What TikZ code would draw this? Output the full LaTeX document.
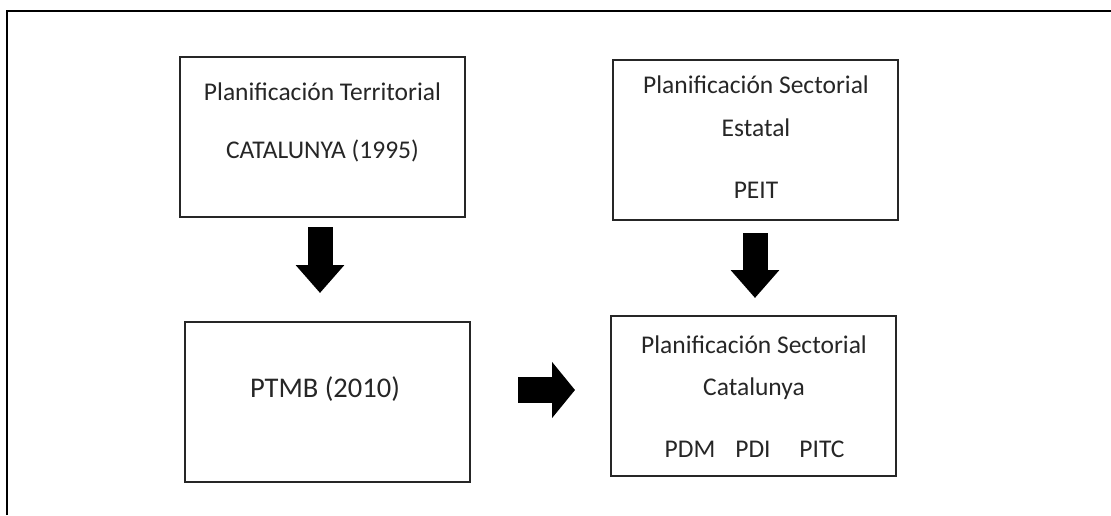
\documentclass[tikz,border=0pt]{standalone}
\usepackage{fontspec}
\setmainfont{Carlito}
\usetikzlibrary{arrows.meta}

\tikzset{
  caja/.style={draw=black!85, line width=1.8pt, minimum width=285pt, minimum height=160pt, inner sep=0pt},
  texto/.style={anchor=base, inner sep=0pt, text=black!85, font=\fontsize{25.5}{30}\selectfont},
  bloque/.style={line width=25pt, -{Triangle[length=28pt,width=47pt]}},
}

\begin{document}
\begin{tikzpicture}[x=1pt, y=-1pt]
    \useasboundingbox (0,0) rectangle (1111,515);
    % marco
    \draw[line width=2pt] (7,515) -- (7,11) -- (1111,11);

    % cajas
    \node[caja] (territorial) at (322.5,137) {};
    \node[caja] (estatal) at (755.5,140) {};
    \node[caja] (ptmbcaja) at (327.5,402) {};
    \node[caja] (sectorial) at (753.5,396) {};

    % textos
    \node[texto] (t1a) at (322.5,100) {Planificación Territorial};
    \node[texto] (t1b) at (322.5,158) {CATALUNYA (1995)};
    \node[texto] (t2a) at (756,93) {Planificación Sectorial};
    \node[texto] (t2b) at (756,136) {Estatal};
    \node[texto] (t2c) at (756,198) {PEIT};
    \node[texto, font=\fontsize{28.5}{34}\selectfont] (ptmb) at (325,397) {PTMB (2010)};
    \node[texto] (t4a) at (754,353) {Planificación Sectorial};
    \node[texto] (t4b) at (754,395) {Catalunya};
    \node[texto] (pdm) at (690,457) {PDM};
    \node[texto] (pdi) at (753,457) {PDI};
    \node[texto] (pitc) at (822,457) {PITC};

    % flechas
    \coordinate (f1a) at (320,227);
    \coordinate (f1b) at (320,293);
    \coordinate (f2a) at (755,233);
    \coordinate (f2b) at (755,298);
    \coordinate (f3a) at (518,390);
    \coordinate (f3b) at (575,390);
    \draw[bloque] (f1a) -- (f1b);
    \draw[bloque] (f2a) -- (f2b);
    \draw[bloque, line width=26pt, -{Triangle[length=23pt,width=55pt]}] (f3a) -- (f3b);
\end{tikzpicture}
\end{document}
